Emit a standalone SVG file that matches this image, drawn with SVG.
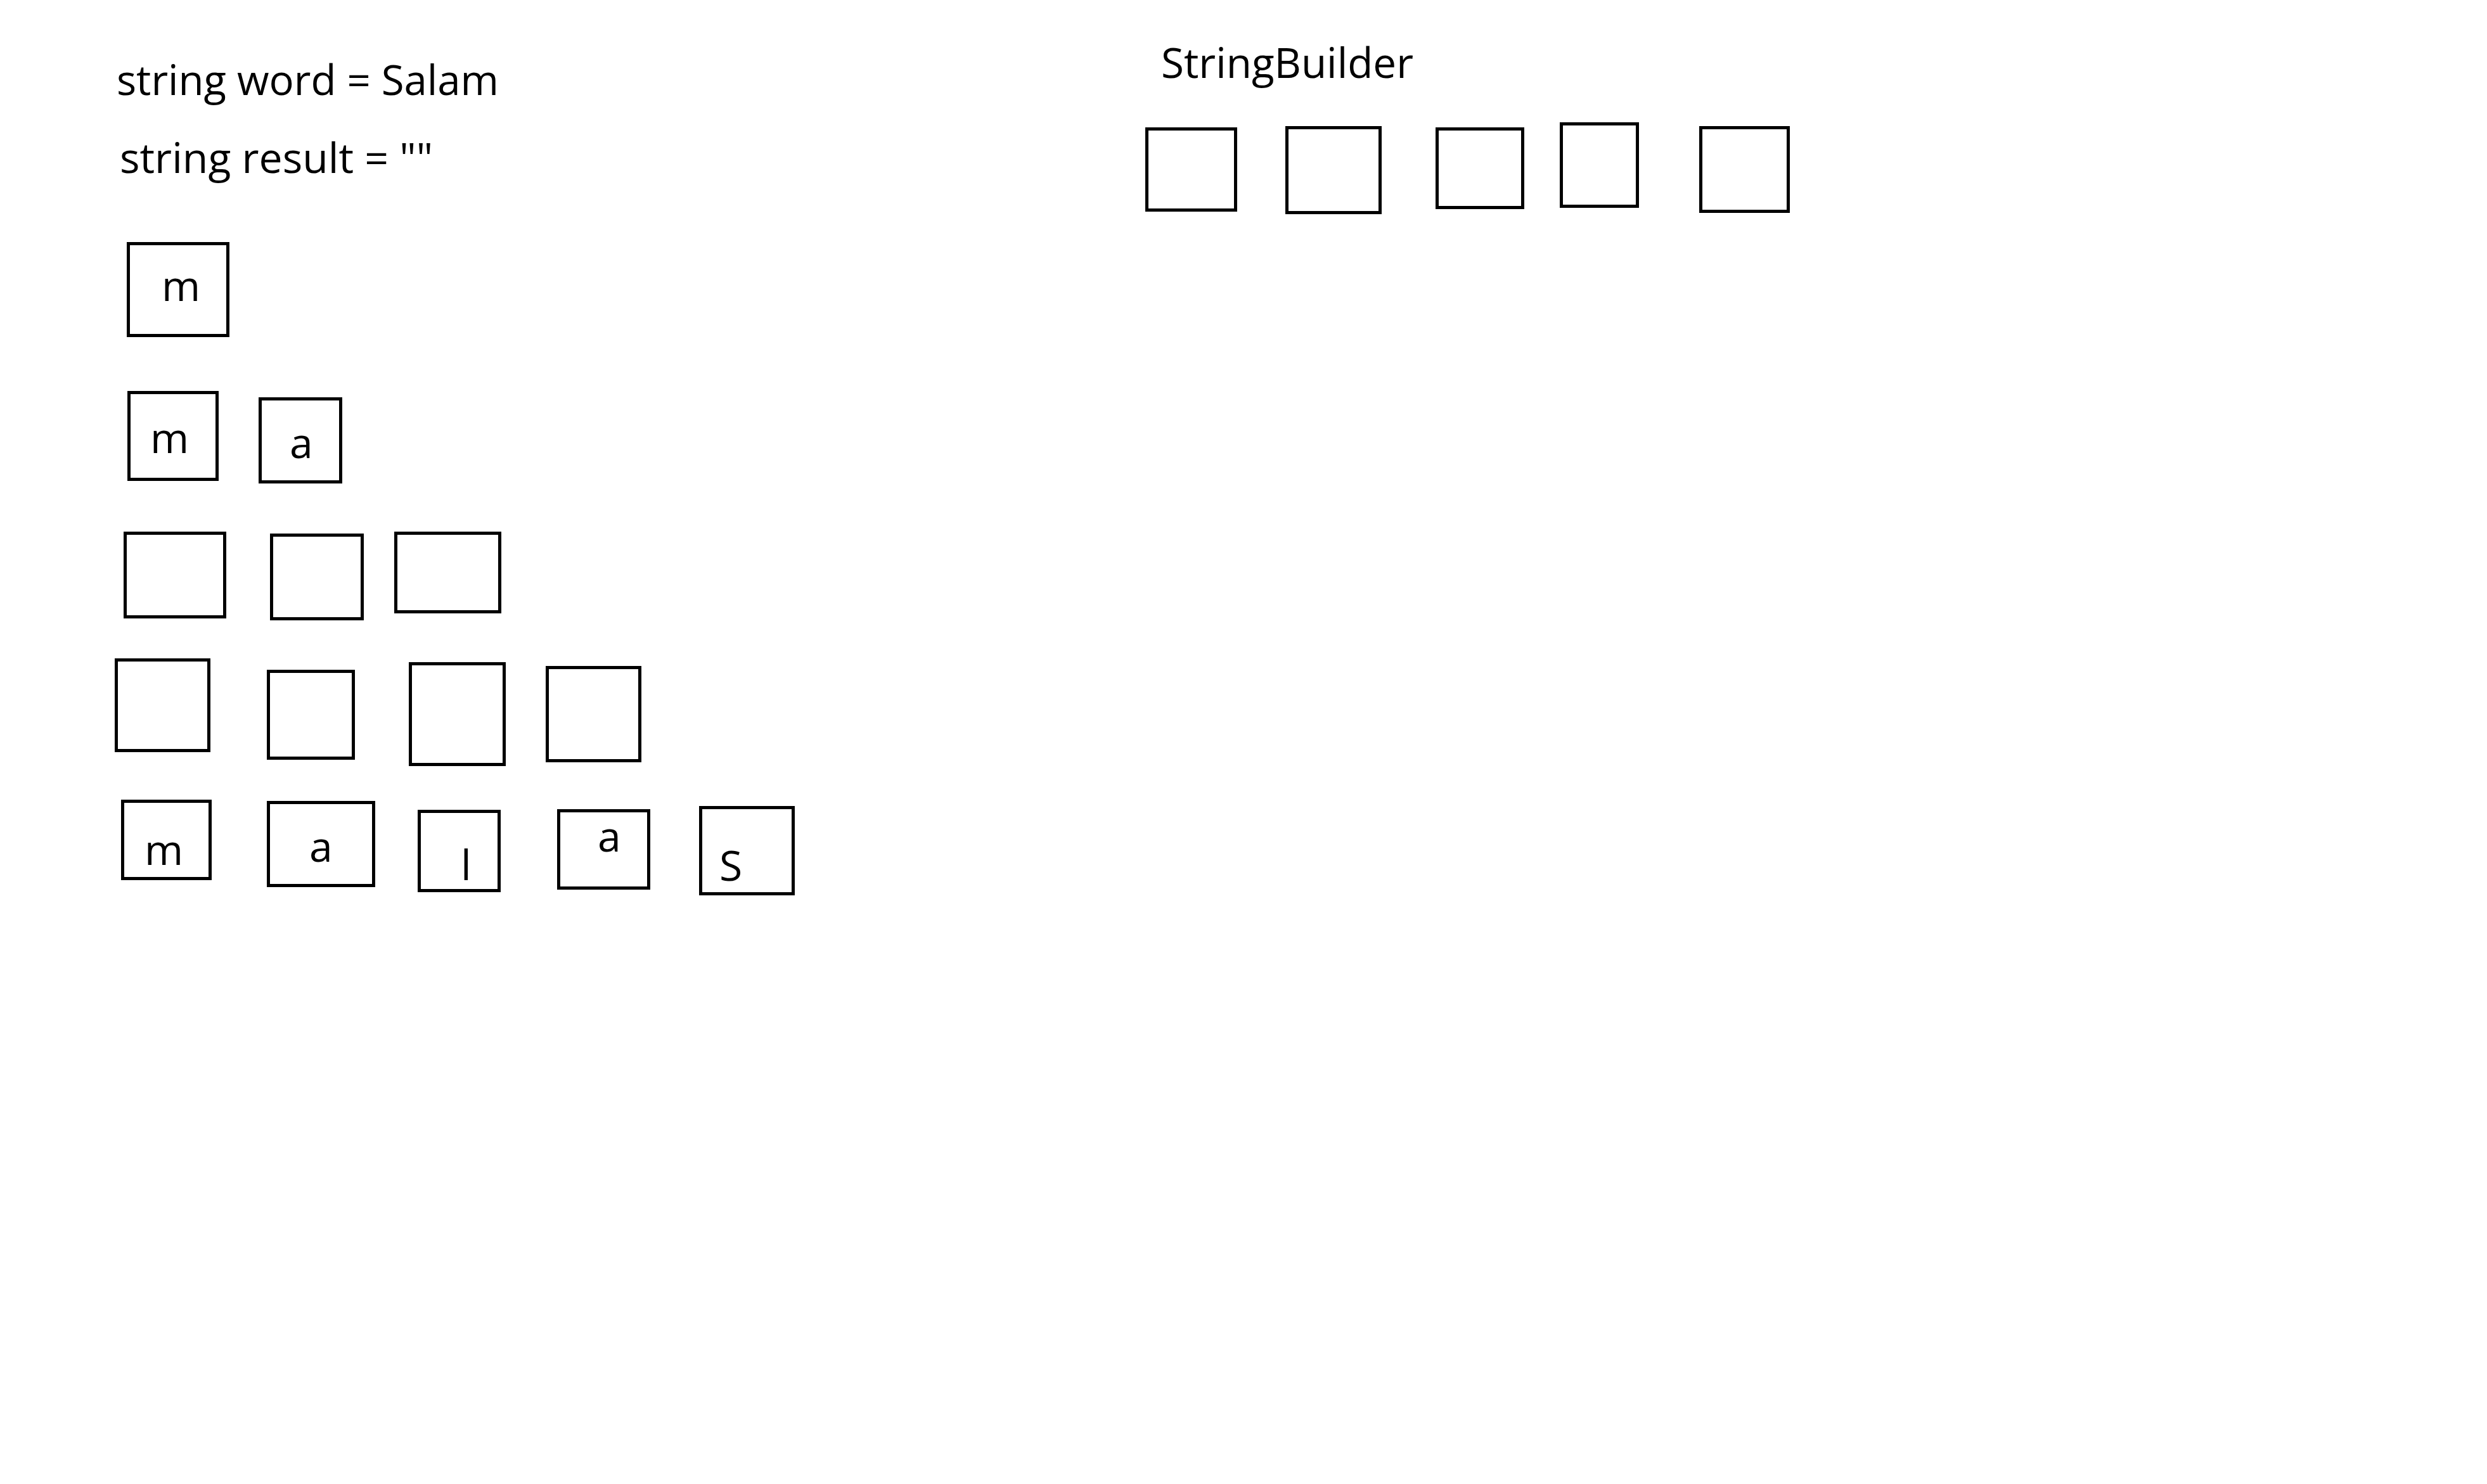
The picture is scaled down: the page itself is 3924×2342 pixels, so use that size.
<svg xmlns="http://www.w3.org/2000/svg" width="3924" height="2342" viewBox="0 0 3924 2342">
<style>
.bg{fill:#ffffff}
.box{fill:#ffffff;stroke:#000000;stroke-width:5}
.t{font-family:"Open Sans","Noto Sans","Liberation Sans",sans-serif;font-size:66px;fill:#000000}
</style>
<rect class="bg" x="0" y="0" width="3924" height="2342"/>
<g id="labels">
<text id="word" class="t" x="184" y="150" textLength="603" lengthAdjust="spacingAndGlyphs">string word = Salam</text>
<text id="result" class="t" x="189" y="273" textLength="494" lengthAdjust="spacingAndGlyphs">string result = ""</text>
<text id="sb" class="t" x="1832" y="123" textLength="398" lengthAdjust="spacingAndGlyphs">StringBuilder</text>
</g>
<g id="connectors"></g>
<g id="r1c1"><rect class="box" x="202.5" y="384.5" width="157" height="145"/><text class="t" x="255" y="475">m</text></g>
<g id="r2c1"><rect class="box" x="203.5" y="619.5" width="139" height="137"/><text class="t" x="237" y="715">m</text></g>
<g id="r2c2"><rect class="box" x="410.5" y="629.5" width="127" height="131"/><text class="t" x="457" y="723">a</text></g>
<g id="r3c1"><rect class="box" x="197.5" y="841.5" width="157" height="132"/></g>
<g id="r3c2"><rect class="box" x="428.5" y="844.5" width="143" height="132"/></g>
<g id="r3c3"><rect class="box" x="624.5" y="841.5" width="164" height="124"/></g>
<g id="r4c1"><rect class="box" x="183.5" y="1041.5" width="146" height="143"/></g>
<g id="r4c2"><rect class="box" x="423.5" y="1059.5" width="134" height="137"/></g>
<g id="r4c3"><rect class="box" x="647.5" y="1047.5" width="148" height="159"/></g>
<g id="r4c4"><rect class="box" x="863.5" y="1053.5" width="146" height="147"/></g>
<g id="r5c1"><rect class="box" x="193.5" y="1264.5" width="138" height="122"/><text class="t" x="228" y="1365">m</text></g>
<g id="r5c2"><rect class="box" x="423.5" y="1266.5" width="166" height="131"/><text class="t" x="488" y="1360">a</text></g>
<g id="r5c3"><rect class="box" x="661.5" y="1280.5" width="126" height="125"/><text class="t" x="727" y="1389">l</text></g>
<g id="r5c4"><rect class="box" x="881.5" y="1279.5" width="142" height="122"/><text class="t" x="943" y="1344">a</text></g>
<g id="r5c5"><rect class="box" x="1105.5" y="1274.5" width="146" height="136"/><text class="t" x="1135" y="1390">S</text></g>
<g id="sb1"><rect class="box" x="1809.5" y="203.5" width="140" height="128"/></g>
<g id="sb2"><rect class="box" x="2030.5" y="201.5" width="147" height="134"/></g>
<g id="sb3"><rect class="box" x="2267.5" y="203.5" width="135" height="124"/></g>
<g id="sb4"><rect class="box" x="2463.5" y="195.5" width="120" height="130"/></g>
<g id="sb5"><rect class="box" x="2683.5" y="201.5" width="138" height="132"/></g>
</svg>
